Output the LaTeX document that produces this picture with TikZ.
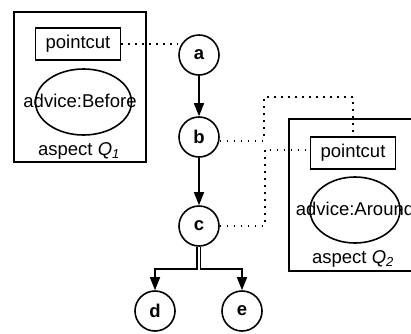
\documentclass[tikz,border=0pt]{standalone}
\usepackage{fontspec}
\setmainfont{Liberation Sans}
\usetikzlibrary{arrows.meta, shapes.geometric, calc, positioning}

\tikzset{
    jpoint/.style={circle, draw, line width=1.6pt, minimum size=40pt, inner sep=0pt, font=\fontsize{18.5}{22}\selectfont\bfseries},
    pcbox/.style={draw, line width=1.6pt, minimum width=85pt, minimum height=32pt, inner sep=0pt},
    advring/.style={ellipse, draw, line width=1.6pt, minimum width=96pt, minimum height=66pt},
    aspbox/.style={draw, line width=1.6pt, inner sep=0pt},
    dotlink/.style={dash pattern=on 1.6pt off 5.4pt, line width=1.7pt},
    flow/.style={line width=1.6pt, -{Triangle[width=10pt,length=13pt]}}
}

\begin{document}
\begin{tikzpicture}[x=1pt, y=-1pt, font=\fontsize{18.5}{22}\selectfont]
    \useasboundingbox (0, 0) rectangle (411, 333);
    \clip (0, 0) rectangle (411, 333);

    % join points
    \node[jpoint] (a) at (199, 55) {a};
    \node[jpoint] (b) at ($(a) + (0, 82)$) {b};
    \node[jpoint] (c) at ($(b) + (0, 89)$) {c};
    \node[jpoint] (d) at ($(c) + (-44, 85)$) {d};
    \node[jpoint] (e) at ($(c) + (43, 85)$) {e};

    % aspect Q1
    \node[aspbox, minimum width=132pt, minimum height=150pt] (asp1) at (80, 87) {};
    \node[pcbox] (pc1) at (78, 44) {pointcut};
    \node[advring] (adv1) at (83.5, 102) {};
    \node (advtxt1) at (80, 101) {advice:Before};
    \node (lab1) at (79, 151) {aspect \textit{Q\textsubscript{1}}};

    % aspect Q2
    \node[aspbox, minimum width=128pt, minimum height=152pt] (asp2) at (353, 195) {};
    \node[pcbox] (pc2) at (353, 153) {pointcut};
    \node[advring, minimum width=90pt] (adv2) at (355, 210) {};
    \node (advtxt2) at (355, 209) {advice:Around};
    \node (lab2) at (353, 259) {aspect \textit{Q\textsubscript{2}}};

    \coordinate (bturn) at ($(b.east) + (44, 4)$);
    \coordinate (cturn) at ($(c.east) + (45, 0)$);
    \coordinate (split) at ($(c) + (0, 43)$);

    \draw[flow] (a) -- (b);
    \draw[flow] (b) -- (c);
    \draw[flow] ($(c.south) + (-2, 0)$) |- ($(split) + (-2, 0)$) -| (d.north);
    \draw[flow] ($(c.south) + (1.5, 0)$) |- ($(split) + (1.5, 0)$) -| (e.north);

    \draw[dotlink] (pc1.east) -- (pc1.east -| a.west);
    \draw[dotlink] ($(b.east) + (0, 4)$) -- (bturn) |- ($(pc2.north) + (0, -39)$) -- (pc2.north);
    \draw[dotlink] (c.east) -- (cturn) |- ($(pc2.west) + (0, -3)$);
\end{tikzpicture}
\end{document}
